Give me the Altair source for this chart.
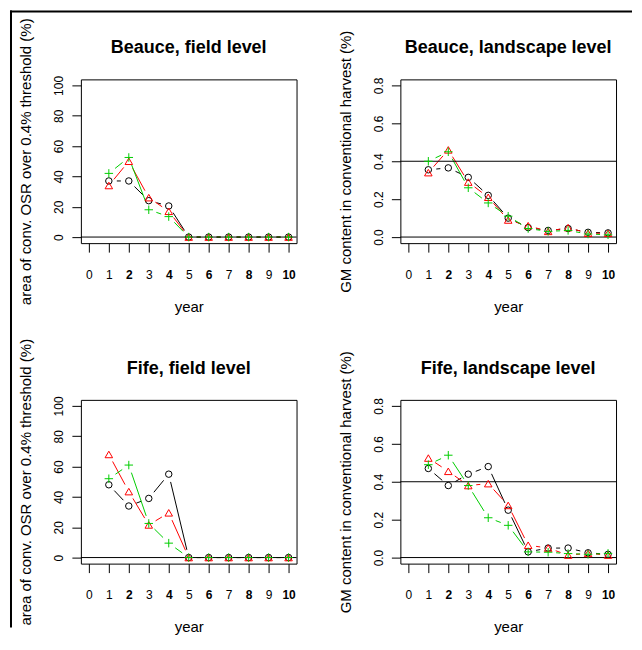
import math
import altair as alt
import pandas as pd

# ---------------- data ----------------
YEARS = [1, 2, 3, 4, 5, 6, 7, 8, 9, 10]
X_TICKS = [0, 1, 2, 3, 4, 5, 6, 7, 8, 9, 10]
SERIES = ["scenario 1", "scenario 2", "scenario 3"]
SERIES_COLORS = ["#000000", "#FF0000", "#00CD00"]
SERIES_SHAPES = ["circle", "triangle-up", "M-1,0L1,0M0,-1L0,1"]
SERIES_SIZES = [42, 72, 81]

beauce_field_s1 = [37, 37, 24, 20.5, 0, 0, 0, 0, 0, 0]
beauce_field_s2 = [34, 50, 26, 17, 0, 0, 0, 0, 0, 0]
beauce_field_s3 = [42, 52.5, 18, 13.5, 0, 0, 0, 0, 0, 0]

beauce_land_s1 = [0.355, 0.365, 0.315, 0.22, 0.10, 0.05, 0.035, 0.045, 0.025, 0.022]
beauce_land_s2 = [0.34, 0.46, 0.29, 0.21, 0.09, 0.06, 0.03, 0.05, 0.02, 0.02]
beauce_land_s3 = [0.40, 0.45, 0.26, 0.18, 0.11, 0.045, 0.03, 0.035, 0.016, 0.012]

fife_field_s1 = [48, 34, 39, 55, 0, 0, 0, 0, 0, 0]
fife_field_s2 = [68, 43.5, 21.5, 29.5, 0, 0, 0, 0, 0, 0]
fife_field_s3 = [52, 61, 22.5, 9.5, 0, 0, 0, 0, 0, 0]

fife_land_s1 = [0.47, 0.38, 0.44, 0.48, 0.25, 0.03, 0.05, 0.05, 0.025, 0.017]
fife_land_s2 = [0.525, 0.455, 0.38, 0.39, 0.275, 0.065, 0.05, 0.013, 0.022, 0.013]
fife_land_s3 = [0.49, 0.54, 0.38, 0.21, 0.17, 0.03, 0.028, 0.021, 0.017, 0.022]

FIELD_TICKS = [0, 20, 40, 60, 80, 100]
LAND_TICKS = [0.0, 0.2, 0.4, 0.6, 0.8]
FIELD_HLINES = [0]
LAND_HLINES = [0, 0.4]

FIELD_YLAB = "area of conv. OSR over 0.4% threshold (%)"
LAND_YLAB = "GM content in conventional harvest (%)"

# ---------------- layout constants ----------------
PLOT_W = 216
PLOT_H = 164
GAP_PX = 8  # R type="b" gap around points
X_DOMAIN = [-0.4, 10.4]
FIELD_DOMAIN = [-4, 104]
LAND_DOMAIN = [-0.032, 0.832]
FONT = "Liberation Sans"


def build_panel(title, ylab, series_vals, ydomain, yticks, yfmt, hlines):
    sx = PLOT_W / (X_DOMAIN[1] - X_DOMAIN[0])
    sy = PLOT_H / (ydomain[1] - ydomain[0])
    pts, segs = [], []
    for name, vals in zip(SERIES, series_vals):
        for xv, yv in zip(YEARS, vals):
            pts.append({"x": xv, "y": yv, "s": name})
        for i in range(len(YEARS) - 1):
            x0, x1 = YEARS[i], YEARS[i + 1]
            y0, y1 = vals[i], vals[i + 1]
            L = math.hypot((x1 - x0) * sx, (y1 - y0) * sy)
            if L > 2 * GAP_PX:
                f = GAP_PX / L
                segs.append({
                    "x": x0 + f * (x1 - x0), "y": y0 + f * (y1 - y0),
                    "x2": x1 - f * (x1 - x0), "y2": y1 - f * (y1 - y0),
                    "s": name,
                })
    pts_df = pd.DataFrame(pts)
    seg_df = pd.DataFrame(segs)
    hl_df = pd.DataFrame({"y": hlines})
    title_df = pd.DataFrame({"t": [title]})

    xaxis = alt.Axis(
        values=X_TICKS, title="year", grid=False, domain=False,
        tickSize=9, tickColor="black", labelColor="black",
        labelFontSize=12, labelPadding=17, labelBaseline="top",
        labelFlush=False, labelOverlap=False,
        labelFontWeight={"condition": {"test": "datum.value % 2 == 0 && datum.value > 0",
                                       "value": "bold"}, "value": "normal"},
        titleFontSize=15, titleFontWeight="normal", titleColor="black",
        titleX=PLOT_W / 2, titleY=68, titleBaseline="alphabetic", titleAlign="center",
    )
    yaxis = alt.Axis(
        values=yticks, format=yfmt, title=ylab, grid=False, domain=False,
        tickSize=9, tickColor="black", labelColor="black",
        labelFontSize=12, labelAngle=270, labelAlign="center",
        labelBaseline="alphabetic", labelPadding=9, labelFlush=False,
        labelOverlap=False,
        titleFontSize=15, titleFontWeight="normal", titleColor="black",
        titleAngle=270, titleX=-50, titleY=PLOT_H / 2,
        titleBaseline="alphabetic", titleAlign="center",
    )
    X = alt.X("x:Q", scale=alt.Scale(domain=X_DOMAIN, nice=False, zero=False), axis=xaxis)
    Y = alt.Y("y:Q", scale=alt.Scale(domain=ydomain, nice=False, zero=False), axis=yaxis)
    color = alt.Color("s:N", scale=alt.Scale(domain=SERIES, range=SERIES_COLORS), legend=None)

    lines = alt.Chart(seg_df).mark_rule(strokeWidth=1).encode(
        x=X, y=Y, x2="x2:Q", y2="y2:Q", color=color)
    hl = alt.Chart(hl_df).mark_rule(color="black", strokeWidth=1).encode(y=Y)
    points = alt.Chart(pts_df).mark_point(filled=False, strokeWidth=1, opacity=1).encode(
        x=X, y=Y, color=color,
        shape=alt.Shape("s:N", scale=alt.Scale(domain=SERIES, range=SERIES_SHAPES), legend=None),
        size=alt.Size("s:N", scale=alt.Scale(domain=SERIES, range=SERIES_SIZES), legend=None),
    )
    head = alt.Chart(title_df).mark_text(
        fontSize=18, fontWeight="bold", color="black", align="center",
        baseline="alphabetic",
    ).encode(text="t:N", x=alt.value(PLOT_W / 2), y=alt.value(-26))
    return alt.layer(lines, hl, points, head).properties(width=PLOT_W, height=PLOT_H)


p1 = build_panel("Beauce, field level", FIELD_YLAB,
                 [beauce_field_s1, beauce_field_s2, beauce_field_s3],
                 FIELD_DOMAIN, FIELD_TICKS, "d", FIELD_HLINES)
p2 = build_panel("Beauce, landscape level", LAND_YLAB,
                 [beauce_land_s1, beauce_land_s2, beauce_land_s3],
                 LAND_DOMAIN, LAND_TICKS, ".1f", LAND_HLINES)
p3 = build_panel("Fife, field level", FIELD_YLAB,
                 [fife_field_s1, fife_field_s2, fife_field_s3],
                 FIELD_DOMAIN, FIELD_TICKS, "d", FIELD_HLINES)
p4 = build_panel("Fife, landscape level", LAND_YLAB,
                 [fife_land_s1, fife_land_s2, fife_land_s3],
                 LAND_DOMAIN, LAND_TICKS, ".1f", LAND_HLINES)

grid = alt.concat(p1, p2, p3, p4, columns=2,
                  spacing={"row": 157, "column": 104}, bounds="flush")

# outer figure frame (top and left edges visible in the original)
frame_df = pd.DataFrame({"k": [0]})
frame = alt.layer(
    alt.Chart(frame_df).mark_rule(color="black", strokeWidth=2).encode(
        x=alt.value(-71), x2=alt.value(552), y=alt.value(-67)),
    alt.Chart(frame_df).mark_rule(color="black", strokeWidth=2).encode(
        x=alt.value(-70), y=alt.value(-68), y2=alt.value(550)),
).properties(width=1, height=1, view=alt.ViewConfig(stroke="transparent"))

chart = alt.vconcat(frame, grid, spacing=0, bounds="flush").properties(
    padding={"left": 0, "top": 0, "right": 0, "bottom": 0},
    background="white",
).configure(font=FONT).configure_view(stroke="black", strokeWidth=1)

chart.save("out.html", embed_options={"renderer": "svg", "actions": False})
